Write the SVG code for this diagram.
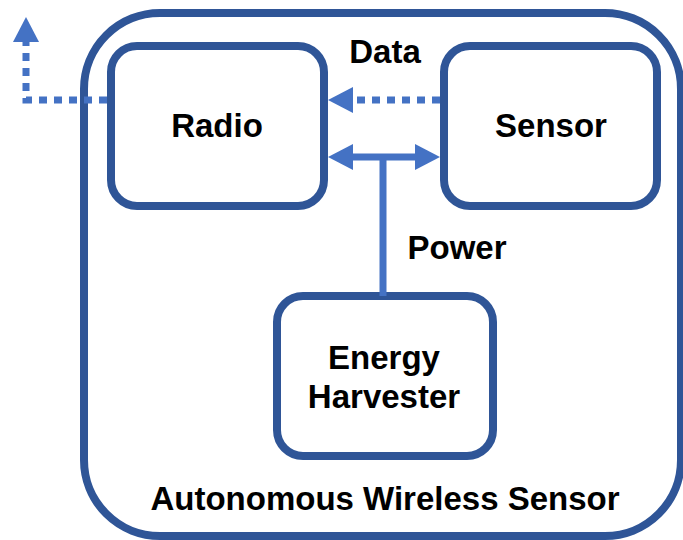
<svg xmlns="http://www.w3.org/2000/svg" width="683" height="540" viewBox="0 0 683 540">
<style>
.box{fill:#fff;stroke:#2F5597;stroke-width:8}
.lbl{font-family:"Liberation Sans",Arial,sans-serif;font-weight:bold;font-size:33px;fill:#000;text-anchor:middle}
.conn{fill:none;stroke:#4472C4;stroke-width:7}
.dot{stroke-dasharray:8 7}
</style>
<defs>
<marker id="ah" markerUnits="userSpaceOnUse" markerWidth="26" markerHeight="26" refX="0" refY="13" orient="auto-start-reverse" viewBox="0 0 26 26">
<path d="M0,0 L25,13 L0,26 z" fill="#4472C4"/>
</marker>
</defs>
<rect width="683" height="540" fill="#fff"/>
<g id="container">
<rect class="box" x="84" y="13" width="597" height="523" rx="76"/>
<text class="lbl" x="385" y="510">Autonomous Wireless Sensor</text>
</g>
<g id="radio">
<rect class="box" x="111" y="46" width="213" height="160" rx="26"/>
<text class="lbl" x="217" y="137">Radio</text>
</g>
<g id="sensor">
<rect class="box" x="444" y="46" width="213" height="160" rx="26"/>
<text class="lbl" x="551" y="137">Sensor</text>
</g>
<g id="harvester">
<rect class="box" x="277" y="296" width="216" height="160" rx="26"/>
<text class="lbl" x="384" y="369">Energy</text>
<text class="lbl" x="384" y="408">Harvester</text>
</g>
<g id="connectors">
<path class="conn dot" d="M440,100 L353,100" marker-end="url(#ah)"/>
<path class="conn dot" d="M107,100 L26,100 L26,42" marker-end="url(#ah)"/>
<path class="conn" d="M353,157 L415,157" marker-start="url(#ah)" marker-end="url(#ah)"/>
<path class="conn" d="M383,157 L383,296"/>
<text class="lbl" x="385" y="63">Data</text>
<text class="lbl" x="457" y="259">Power</text>
</g>
</svg>
